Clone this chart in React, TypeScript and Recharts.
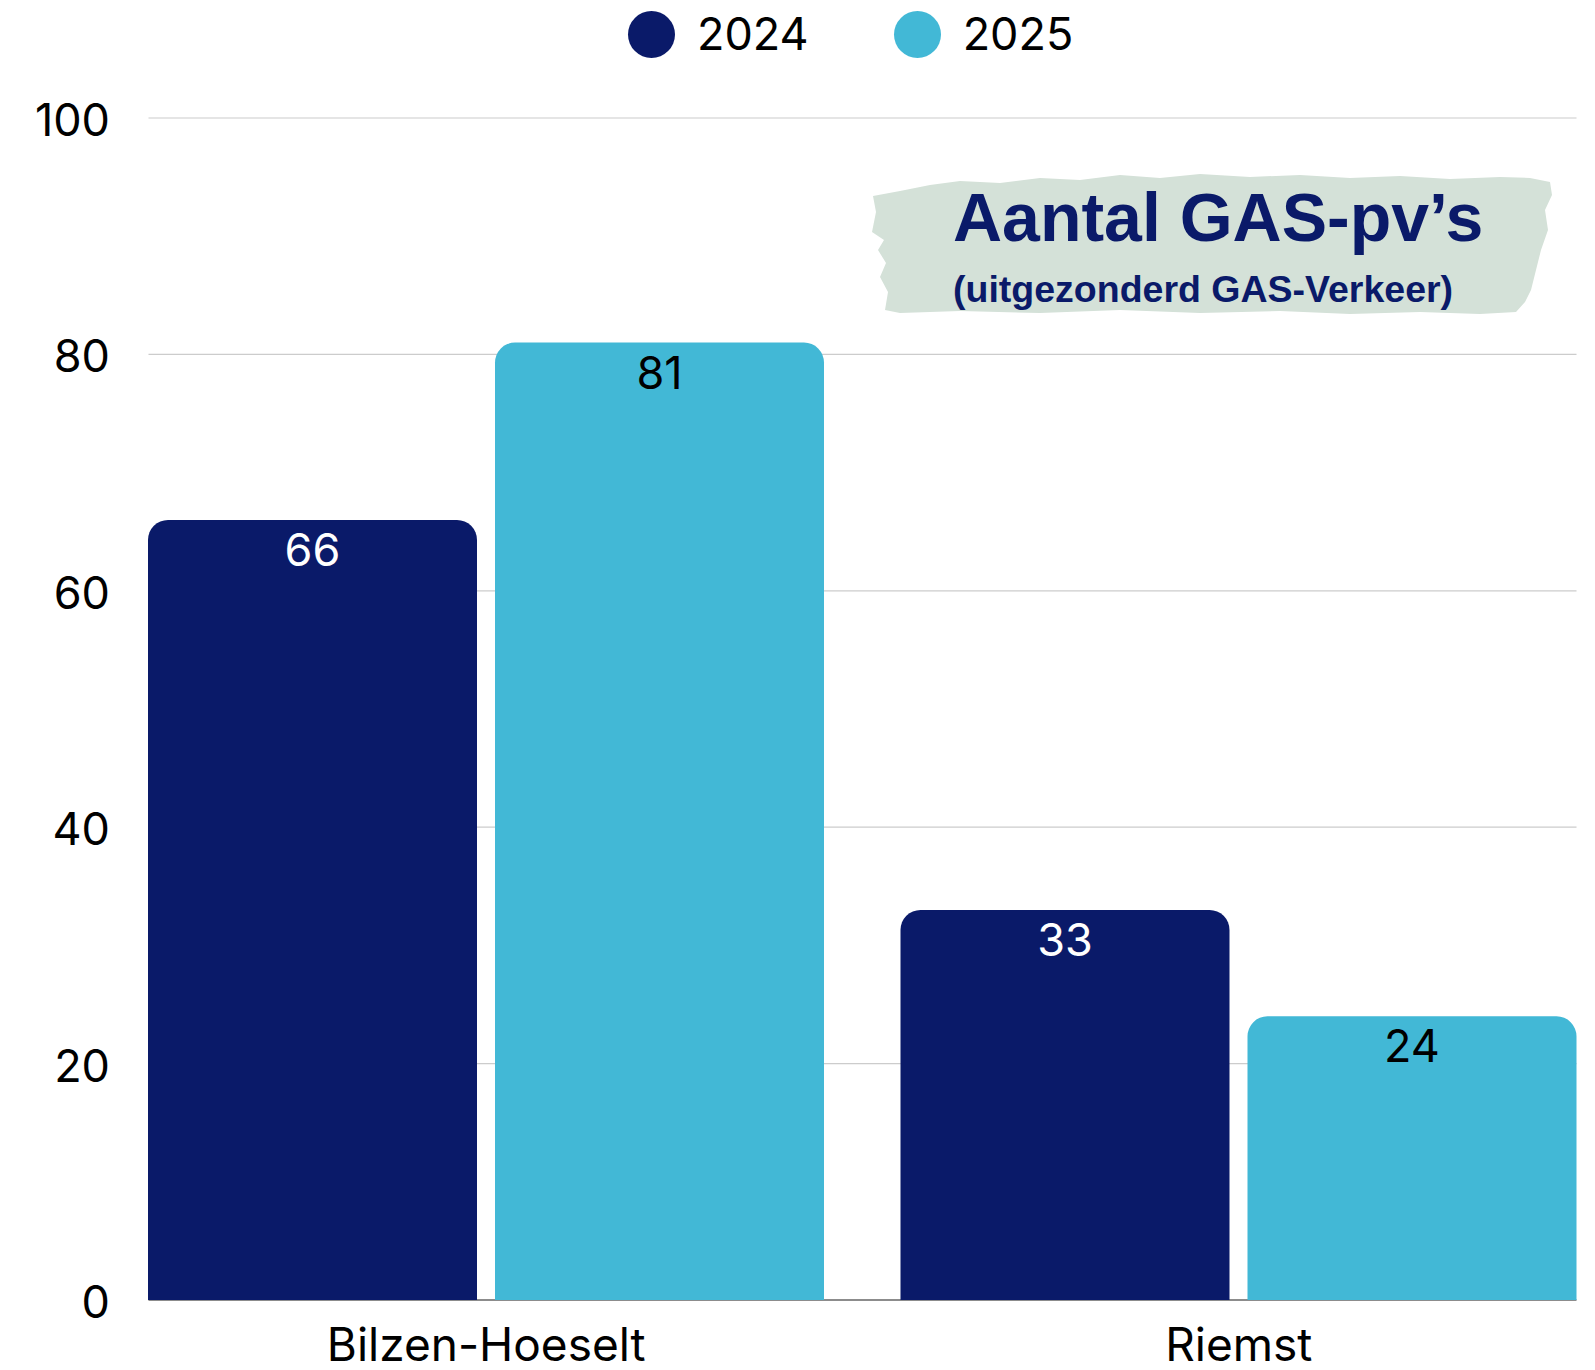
import { BarChart, Bar, XAxis, YAxis, CartesianGrid, LabelList, Legend } from "recharts";

const categories = ["Bilzen-Hoeselt", "Riemst"];
const values2024 = [66, 33];
const values2025 = [81, 24];
const seriesNames = ["2024", "2025"];
const yTicks = [0, 20, 40, 60, 80, 100];

const NAVY = "#0a1a69";
const CYAN = "#42b8d6";
const FONT = "Inter, 'Noto Sans', sans-serif";

const data = categories.map((name, i) => ({
  name,
  y2024: values2024[i],
  y2025: values2025[i],
}));

// grid lines stop at the outer bar edges, the zero line is darker
function GridLine(props: any) {
  const { x1, x2, y1, y2, y, height } = props;
  const isBase = Math.abs(y1 - (y + height)) < 1;
  return (
    <line
      x1={x1 + 38.5}
      x2={x2 - 38.5}
      y1={y1}
      y2={y2}
      stroke={isBase ? "#666" : "#cccccc"}
      strokeWidth={isBase ? 1.5 : 1.2}
    />
  );
}

function LegendContent() {
  const colors = [NAVY, CYAN];
  return (
    <div style={{ height: 118, position: "relative" }}>
      <div
        style={{
          position: "absolute",
          left: 628,
          top: 10,
          display: "flex",
          alignItems: "center",
          fontFamily: FONT,
          fontSize: 45,
          color: "#000",
        }}
      >
        {seriesNames.map((s, i) => (
          <div key={s} style={{ display: "flex", alignItems: "center", marginRight: i === 0 ? 85 : 0 }}>
            <span
              style={{
                width: 47,
                height: 47,
                borderRadius: "50%",
                background: colors[i],
                display: "inline-block",
                marginRight: 22,
              }}
            />
            <span style={{ lineHeight: "48px" }}>{s}</span>
          </div>
        ))}
      </div>
    </div>
  );
}

function TitleBadge() {
  const brush =
    "M 873 196 L 900 191 L 930 185 L 960 181 L 1000 183 L 1040 178 L 1080 180 L 1120 175 L 1160 178 L 1200 174 L 1250 177 L 1300 175 L 1350 178 L 1400 176 L 1450 179 L 1500 177 L 1530 178 L 1550 182 L 1552 195 L 1545 210 L 1548 230 L 1541 250 L 1536 270 L 1531 290 L 1525 302 L 1516 312 L 1480 314 L 1420 312 L 1350 314 L 1280 311 L 1200 313 L 1120 310 L 1040 313 L 960 311 L 900 313 L 885 310 L 888 292 L 880 277 L 886 263 L 878 250 L 884 240 L 872 232 L 876 212 Z";
  return (
    <svg
      width={1595}
      height={1370}
      style={{ position: "absolute", left: 0, top: 0, pointerEvents: "none" }}
    >
      <path d={brush} fill="#d4e1d8" />
      <text
        x={953}
        y={241}
        fill={NAVY}
        fontFamily="'Liberation Sans', Arial, sans-serif"
        fontWeight={700}
        fontSize={68}
      >
        Aantal GAS-pv’s
      </text>
      <text
        x={953}
        y={302}
        fill={NAVY}
        fontFamily="'Liberation Sans', Arial, sans-serif"
        fontWeight={700}
        fontSize={37.5}
      >
        (uitgezonderd GAS-Verkeer)
      </text>
    </svg>
  );
}

export default function App() {
  return (
    <div
      style={{
        position: "absolute",
        left: 0,
        top: 0,
        width: 1595,
        height: 1370,
        overflow: "hidden",
        background: "#fff",
      }}
    >
      <BarChart
        width={1640}
        height={1370}
        data={data}
        margin={{ top: 0, right: 25, left: 10, bottom: 10 }}
        barSize={329}
        barGap={18}
      >
        <Legend verticalAlign="top" wrapperStyle={{ top: 0, left: 0, width: 1595 }} content={<LegendContent />} />
        <CartesianGrid vertical={false} horizontal={(p: any) => <GridLine key={p.key} {...p} />} />
        <XAxis
          dataKey="name"
          axisLine={false}
          tickLine={false}
          tickSize={0}
          tickMargin={28}
          height={60}
          tick={{ fill: "#000", fontSize: 46, fontFamily: FONT }}
        />
        <YAxis
          domain={[0, 100]}
          ticks={yTicks}
          axisLine={false}
          tickLine={false}
          tickSize={0}
          tickMargin={0}
          width={100}
          tick={{ fill: "#000", fontSize: 45, fontFamily: FONT, dy: 2 }}
        />
        <Bar dataKey="y2024" name={seriesNames[0]} fill={NAVY} radius={[20, 20, 0, 0]} isAnimationActive={false}>
          <LabelList dataKey="y2024" position="insideTop" offset={14} fill="#fff" fontSize={45} fontFamily={FONT} />
        </Bar>
        <Bar dataKey="y2025" name={seriesNames[1]} fill={CYAN} radius={[20, 20, 0, 0]} isAnimationActive={false}>
          <LabelList dataKey="y2025" position="insideTop" offset={14} fill="#000" fontSize={45} fontFamily={FONT} />
        </Bar>
      </BarChart>
      <TitleBadge />
    </div>
  );
}
